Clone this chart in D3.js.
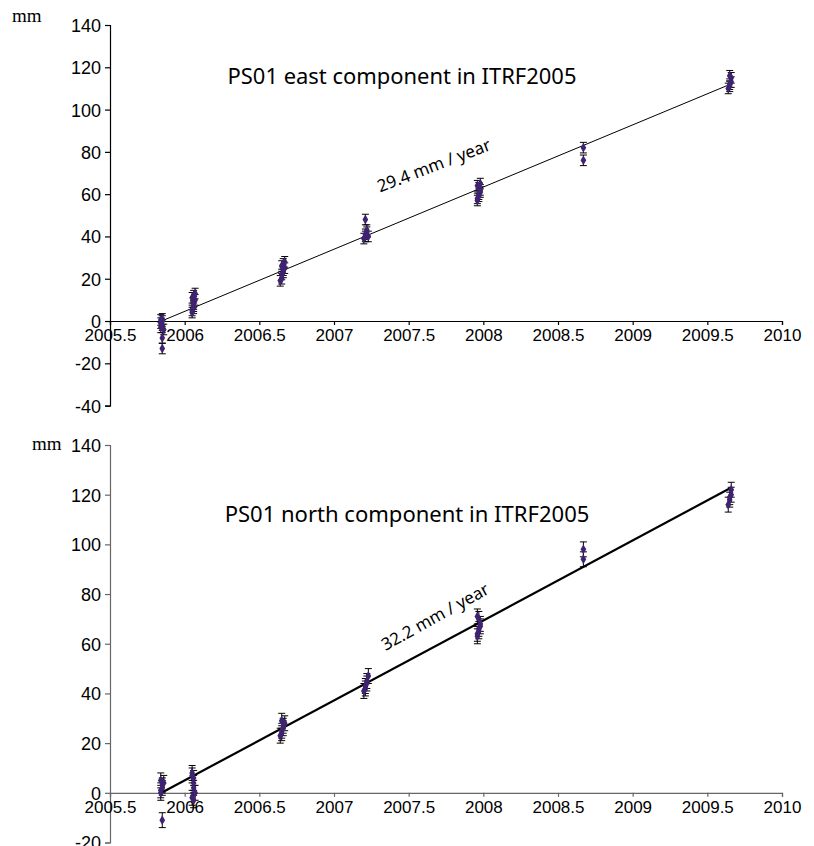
<!DOCTYPE html>
<html>
<head>
<meta charset="utf-8">
<script src="https://cdn.jsdelivr.net/npm/d3@7"></script>
<style>
  html, body { margin: 0; padding: 0; background: #fff; }
  svg { display: block; }
</style>
</head>
<body>
<svg id="chart" width="814" height="846"></svg>
<script>
// ---- East component (mm) ----
const eastT = [2005.84, 2005.84, 2005.85, 2005.85, 2005.85, 2005.86, 2005.84, 2005.85, 2005.85,
               2006.05, 2006.05, 2006.06, 2006.06, 2006.06, 2006.07, 2006.05, 2006.06, 2006.07, 2006.06,
               2006.64, 2006.65, 2006.65, 2006.66, 2006.66, 2006.67, 2006.65, 2006.66, 2006.67,
               2007.20, 2007.21, 2007.21, 2007.22, 2007.22, 2007.23, 2007.21,
               2007.96, 2007.96, 2007.97, 2007.97, 2007.98, 2007.98, 2007.97, 2007.96, 2007.98,
               2008.67, 2008.67,
               2009.64, 2009.65, 2009.65, 2009.66, 2009.66, 2009.65];
const eastV = [-3, -1, 0, 1, -2, -4, 0.5, -8, -13,
               4, 5, 6, 8, 9, 10, 11, 12, 13, 7,
               19, 20, 22, 23, 24, 25, 26, 27, 28,
               39, 40, 41, 42, 43, 40, 48,
               57, 58, 59, 60, 61, 62, 63, 64, 65,
               82, 76,
               110, 111, 112, 113, 115, 116];
const eastErr = 2.5;
const eastRate = 29.4;

// ---- North component (mm) ----
const northT = [2005.84, 2005.84, 2005.85, 2005.85, 2005.86, 2005.84, 2005.85,
                2006.05, 2006.05, 2006.06, 2006.06, 2006.06, 2006.07, 2006.05, 2006.06,
                2006.64, 2006.65, 2006.65, 2006.66, 2006.66, 2006.67, 2006.65,
                2007.20, 2007.21, 2007.21, 2007.22, 2007.22, 2007.23,
                2007.96, 2007.96, 2007.97, 2007.97, 2007.98, 2007.98, 2007.97, 2007.96,
                2008.67, 2008.67,
                2009.64, 2009.65, 2009.65, 2009.66, 2009.66];
const northV = [0, 1, 2, 3, 4, 5, -11,
                8, 7, 6, 4, 2, 0, -2, -3,
                23, 24, 25, 26, 27, 28, 29,
                41, 42, 43, 44, 45, 47,
                63, 64, 65, 66, 67, 68, 70, 71,
                98, 94,
                116, 118, 119, 120, 122];
const northErr = 3;
const northRate = 32.2;

const startEpoch = 2005.845;
const endEpoch = 2009.655;

// ---- Axis ticks ----
const xTicks = [2005.5, 2006, 2006.5, 2007, 2007.5, 2008, 2008.5, 2009, 2009.5, 2010];
const eastYTicks = [-40, -20, 0, 20, 40, 60, 80, 100, 120, 140];
const northYTicks = [-20, 0, 20, 40, 60, 80, 100, 120, 140];

const svg = d3.select("#chart");
const markColor = "#3f2372";
const tickFont = "Liberation Sans, Arial, sans-serif";

function drawPanel(cfg) {
  const g = svg.append("g");
  const x = d3.scaleLinear().domain([2005.5, 2010]).range([110, 782]);
  const y = d3.scaleLinear().domain(cfg.yDomain).range(cfg.yRange);

  // y axis (plain hyphen for negatives)
  const yAxis = d3.axisLeft(y).tickValues(cfg.yTicks).tickSize(5).tickPadding(4)
    .tickFormat(d => String(d));
  const ya = g.append("g").attr("transform", `translate(${x(2005.5)},0)`).call(yAxis);
  ya.select(".domain").attr("stroke", cfg.axisColor).attr("stroke-width", 1.2);
  ya.selectAll(".tick line").attr("stroke", cfg.axisColor).attr("stroke-width", 1.2);
  ya.selectAll("text").attr("font-family", tickFont)
    .attr("font-size", 18).attr("fill", "#000").attr("dy", "0.36em");

  // x axis along zero
  const xAxis = d3.axisBottom(x).tickValues(xTicks).tickSize(4).tickPadding(4)
    .tickFormat(d => String(d));
  const xa = g.append("g").attr("transform", `translate(0,${y(0)})`).call(xAxis);
  xa.select(".domain").attr("stroke", cfg.axisColor).attr("stroke-width", 1.2);
  xa.selectAll(".tick line").attr("stroke", cfg.axisColor).attr("stroke-width", 1.2);
  xa.selectAll("text").attr("font-family", tickFont)
    .attr("font-size", 17).attr("fill", "#000");

  // unit label
  g.append("text").attr("x", cfg.unitX).attr("y", cfg.unitY)
    .attr("font-family", "Liberation Serif, Times New Roman, serif")
    .attr("font-size", 19).text("mm");

  // fitted trend line
  g.append("line")
    .attr("x1", x(startEpoch)).attr("y1", y(0))
    .attr("x2", x(endEpoch)).attr("y2", y(cfg.rate * (endEpoch - startEpoch)))
    .attr("stroke", "#000").attr("stroke-width", cfg.lineWidth);

  // error bars
  const pts = cfg.t.map((t, i) => ({ t, v: cfg.v[i] }));
  const eb = g.append("g").attr("stroke", "#000").attr("stroke-width", 1);
  eb.selectAll(".bar").data(pts).join("line").attr("class", "bar")
    .attr("x1", d => x(d.t)).attr("x2", d => x(d.t))
    .attr("y1", d => y(d.v - cfg.err)).attr("y2", d => y(d.v + cfg.err));
  eb.selectAll(".capTop").data(pts).join("line").attr("class", "capTop")
    .attr("x1", d => x(d.t) - 3.5).attr("x2", d => x(d.t) + 3.5)
    .attr("y1", d => y(d.v + cfg.err)).attr("y2", d => y(d.v + cfg.err));
  eb.selectAll(".capBot").data(pts).join("line").attr("class", "capBot")
    .attr("x1", d => x(d.t) - 3.5).attr("x2", d => x(d.t) + 3.5)
    .attr("y1", d => y(d.v - cfg.err)).attr("y2", d => y(d.v - cfg.err));

  // observation markers
  g.append("g").selectAll("path").data(pts).join("path")
    .attr("transform", d => `translate(${x(d.t)},${y(d.v)})`)
    .attr("d", d3.symbol(d3.symbolDiamond, 28))
    .attr("fill", markColor);

  // title, sized to its measured span
  const title = g.append("text").attr("x", cfg.titleX).attr("y", cfg.titleY)
    .attr("text-anchor", "middle")
    .attr("font-family", "Noto Sans, Open Sans, sans-serif")
    .attr("font-size", 21).text(cfg.title);
  const w = title.node().getComputedTextLength();
  title.attr("font-size", 21 * cfg.titleWidth / w);

  // rate annotation
  g.append("text")
    .attr("transform", `translate(${cfg.rateX},${cfg.rateY}) rotate(${cfg.rateAngle})`)
    .attr("text-anchor", "middle")
    .attr("font-family", "Noto Sans, Open Sans, sans-serif")
    .attr("font-size", 17).text(`${cfg.rate} mm / year`);
}

drawPanel({
  t: eastT, v: eastV, err: eastErr, rate: eastRate,
  yDomain: [-40, 140], yRange: [405.6, 25], yTicks: eastYTicks,
  axisColor: "#000", lineWidth: 1,
  unitX: 12, unitY: 22,
  title: "PS01 east component in ITRF2005", titleX: 402, titleY: 84, titleWidth: 349,
  rateX: 436, rateY: 171, rateAngle: -21
});

drawPanel({
  t: northT, v: northV, err: northErr, rate: northRate,
  yDomain: [-20, 140], yRange: [842.5, 445], yTicks: northYTicks,
  axisColor: "#666", lineWidth: 2.2,
  unitX: 32, unitY: 450,
  title: "PS01 north component in ITRF2005", titleX: 407, titleY: 522, titleWidth: 365,
  rateX: 438, rateY: 622, rateAngle: -29
});
</script>
</body>
</html>
